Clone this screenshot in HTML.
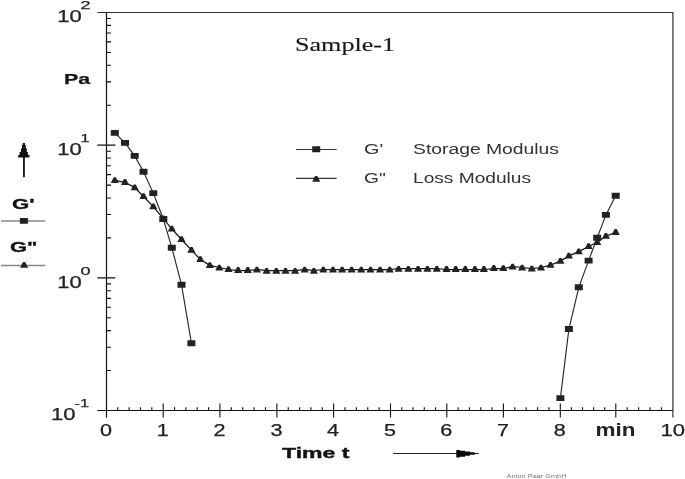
<!DOCTYPE html>
<html><head><meta charset="utf-8"><title>Sample-1</title>
<style>html,body{margin:0;padding:0;background:#fff;width:685px;height:479px;overflow:hidden}svg{display:block}</style>
</head><body><svg width="685" height="479" viewBox="0 0 685 479"><path d="M97.3 12.5H673.5M672.9 12.5V417.5" stroke="#333" stroke-width="1.2" fill="none"/><path d="M106.5 12.5V417.5M97.3 410.5H672.9" stroke="#111" stroke-width="1.2" fill="none"/><path d="M106.5 370.56H111M106.5 347.20H111M106.5 330.62H111M106.5 317.77H111M106.5 307.26H111M106.5 298.38H111M106.5 290.69H111M106.5 283.90H111M106.5 237.89H111M106.5 214.53H111M106.5 197.95H111M106.5 185.10H111M106.5 174.59H111M106.5 165.71H111M106.5 158.02H111M106.5 151.23H111M106.5 105.22H111M106.5 81.86H111M106.5 65.28H111M106.5 52.43H111M106.5 41.92H111M106.5 33.04H111M106.5 25.35H111M106.5 18.56H111M97.3 277.83H115.4M97.3 145.16H115.4M117.76 407.3V410.5M129.12 407.3V410.5M140.48 407.3V410.5M151.84 407.3V410.5M174.54 407.3V410.5M185.88 407.3V410.5M197.22 407.3V410.5M208.56 407.3V410.5M231.30 407.3V410.5M242.70 407.3V410.5M254.10 407.3V410.5M265.50 407.3V410.5M288.24 407.3V410.5M299.58 407.3V410.5M310.92 407.3V410.5M322.26 407.3V410.5M344.98 407.3V410.5M356.36 407.3V410.5M367.74 407.3V410.5M379.12 407.3V410.5M401.76 407.3V410.5M413.02 407.3V410.5M424.28 407.3V410.5M435.54 407.3V410.5M458.12 407.3V410.5M469.44 407.3V410.5M480.76 407.3V410.5M492.08 407.3V410.5M514.78 407.3V410.5M526.16 407.3V410.5M537.54 407.3V410.5M548.92 407.3V410.5M571.40 407.3V410.5M582.50 407.3V410.5M593.60 407.3V410.5M604.70 407.3V410.5M627.20 407.3V410.5M638.60 407.3V410.5M650.00 407.3V410.5M661.40 407.3V410.5M163.20 403.4V417.5M219.90 403.4V417.5M276.90 403.4V417.5M333.60 403.4V417.5M390.50 403.4V417.5M446.80 403.4V417.5M503.40 403.4V417.5M560.30 403.4V417.5M615.80 403.4V417.5" stroke="#111" stroke-width="1.1" fill="none"/><path d="M114.8 180.4 L125.0 182.3 L134.7 187.6 L143.5 196.5 L153.3 206.6 L163.3 218.6 L171.8 228.9 L181.5 239.5 L191.4 250.1 L200.3 259.5 L209.8 265.4 L219.3 267.5 L228.5 269.5 L238.1 270.5 L247.8 270.5 L256.9 269.5 L266.6 270.5 L276.3 270.5 L285.5 270.5 L295.1 270.5 L304.7 269.5 L313.9 270.5 L323.3 269.5 L333.0 269.5 L342.1 269.5 L351.6 269.5 L361.2 269.5 L370.5 269.5 L380.1 269.5 L389.7 269.5 L398.6 268.5 L408.4 268.5 L418.1 268.5 L427.4 268.5 L436.8 268.5 L446.5 269.5 L455.7 269.5 L465.3 269.5 L474.9 269.5 L483.9 269.5 L493.8 268.5 L503.3 268.5 L512.6 266.5 L522.1 267.5 L531.8 268.5 L541.0 267.5 L550.5 265.2 L560.4 261.1 L568.9 255.9 L578.8 251.6 L588.6 246.5 L597.2 242.3 L605.9 236.2 L615.7 232.3" stroke="#151515" stroke-width="1.25" fill="none"/><path d="M114.8 132.9 L125.0 142.9 L134.7 155.9 L143.5 171.8 L153.3 193.1 L163.3 219.0 L171.8 247.7 L181.5 284.7 L191.4 343.2 M560.4 398.1 L568.9 329.0 L578.8 287.3 L588.6 260.6 L597.2 237.7 L605.9 214.9 L615.7 195.7" stroke="#222" stroke-width="1.1" fill="none"/><path d="M113.70 177.20H115.90L118.80 183.00H110.80zM123.90 179.10H126.10L129.00 184.90H121.00zM133.60 184.40H135.80L138.70 190.20H130.70zM142.40 193.30H144.60L147.50 199.10H139.50zM152.20 203.40H154.40L157.30 209.20H149.30zM162.20 215.40H164.40L167.30 221.20H159.30zM170.70 225.70H172.90L175.80 231.50H167.80zM180.40 236.30H182.60L185.50 242.10H177.50zM190.30 246.90H192.50L195.40 252.70H187.40zM199.20 256.30H201.40L204.30 262.10H196.30zM208.70 262.20H210.90L213.80 268.00H205.80zM218.20 264.80H220.40L223.30 270.60H215.30zM227.40 266.30H229.60L232.50 272.10H224.50zM237.00 267.10H239.20L242.10 272.90H234.10zM246.70 267.10H248.90L251.80 272.90H243.80zM255.80 266.80H258.00L260.90 272.60H252.90zM265.50 268.00H267.70L270.60 273.80H262.60zM275.20 268.00H277.40L280.30 273.80H272.30zM284.40 268.00H286.60L289.50 273.80H281.50zM294.00 268.00H296.20L299.10 273.80H291.10zM303.60 266.80H305.80L308.70 272.60H300.70zM312.80 268.00H315.00L317.90 273.80H309.90zM322.20 266.80H324.40L327.30 272.60H319.30zM331.90 266.80H334.10L337.00 272.60H329.00zM341.00 266.80H343.20L346.10 272.60H338.10zM350.50 266.80H352.70L355.60 272.60H347.60zM360.10 266.80H362.30L365.20 272.60H357.20zM369.40 266.80H371.60L374.50 272.60H366.50zM379.00 266.80H381.20L384.10 272.60H376.10zM388.60 266.80H390.80L393.70 272.60H385.70zM397.50 265.90H399.70L402.60 271.70H394.60zM407.30 265.90H409.50L412.40 271.70H404.40zM417.00 265.90H419.20L422.10 271.70H414.10zM426.30 265.90H428.50L431.40 271.70H423.40zM435.70 266.00H437.90L440.80 271.80H432.80zM445.40 266.10H447.60L450.50 271.90H442.50zM454.60 266.10H456.80L459.70 271.90H451.70zM464.20 266.10H466.40L469.30 271.90H461.30zM473.80 266.10H476.00L478.90 271.90H470.90zM482.80 266.10H485.00L487.90 271.90H479.90zM492.70 265.10H494.90L497.80 270.90H489.80zM502.20 265.30H504.40L507.30 271.10H499.30zM511.50 263.80H513.70L516.60 269.60H508.60zM521.00 264.80H523.20L526.10 270.60H518.10zM530.70 265.70H532.90L535.80 271.50H527.80zM539.90 264.80H542.10L545.00 270.60H537.00zM549.40 262.00H551.60L554.50 267.80H546.50zM559.30 257.90H561.50L564.40 263.70H556.40zM567.80 252.70H570.00L572.90 258.50H564.90zM577.70 248.40H579.90L582.80 254.20H574.80zM587.50 243.30H589.70L592.60 249.10H584.60zM596.10 239.10H598.30L601.20 244.90H593.20zM604.80 233.00H607.00L609.90 238.80H601.90zM614.60 229.10H616.80L619.70 234.90H611.70z" fill="#222"/><path d="M110.80 129.95h8.0v5.9h-8.0zM121.00 139.95h8.0v5.9h-8.0zM130.70 152.95h8.0v5.9h-8.0zM139.50 168.85h8.0v5.9h-8.0zM149.30 190.15h8.0v5.9h-8.0zM159.30 216.05h8.0v5.9h-8.0zM167.80 244.75h8.0v5.9h-8.0zM177.50 281.75h8.0v5.9h-8.0zM187.40 340.25h8.0v5.9h-8.0zM556.40 395.15h8.0v5.9h-8.0zM564.90 326.05h8.0v5.9h-8.0zM574.80 284.35h8.0v5.9h-8.0zM584.60 257.65h8.0v5.9h-8.0zM593.20 234.75h8.0v5.9h-8.0zM601.90 211.95h8.0v5.9h-8.0zM611.70 192.75h8.0v5.9h-8.0z" fill="#222"/><text x="57.3" y="22.4" font-size="16" font-weight="normal" font-family='"Liberation Sans", sans-serif' fill="#222" stroke="#222" stroke-width="0.25" textLength="24.5" lengthAdjust="spacingAndGlyphs" text-anchor="start">10</text><text x="80.6" y="8.9" font-size="10.8" font-weight="normal" font-family='"Liberation Sans", sans-serif' fill="#222" stroke="#222" stroke-width="0.25" textLength="10" lengthAdjust="spacingAndGlyphs" text-anchor="start">2</text><text x="57.3" y="155" font-size="16" font-weight="normal" font-family='"Liberation Sans", sans-serif' fill="#222" stroke="#222" stroke-width="0.25" textLength="24.5" lengthAdjust="spacingAndGlyphs" text-anchor="start">10</text><text x="80.6" y="141.5" font-size="10.8" font-weight="normal" font-family='"Liberation Sans", sans-serif' fill="#222" stroke="#222" stroke-width="0.25" textLength="9" lengthAdjust="spacingAndGlyphs" text-anchor="start">1</text><text x="57.3" y="288" font-size="16" font-weight="normal" font-family='"Liberation Sans", sans-serif' fill="#222" stroke="#222" stroke-width="0.25" textLength="24.5" lengthAdjust="spacingAndGlyphs" text-anchor="start">10</text><text x="80.6" y="274.5" font-size="10.8" font-weight="normal" font-family='"Liberation Sans", sans-serif' fill="#222" stroke="#222" stroke-width="0.25" textLength="10" lengthAdjust="spacingAndGlyphs" text-anchor="start">0</text><text x="51.1" y="420.4" font-size="16" font-weight="normal" font-family='"Liberation Sans", sans-serif' fill="#222" stroke="#222" stroke-width="0.25" textLength="24.5" lengthAdjust="spacingAndGlyphs" text-anchor="start">10</text><text x="74.6" y="406.9" font-size="10.5" font-weight="normal" font-family='"Liberation Sans", sans-serif' fill="#222" stroke="#222" stroke-width="0.25" textLength="14.5" lengthAdjust="spacingAndGlyphs" text-anchor="start">-1</text><text x="64" y="83.8" font-size="15.3" font-weight="bold" font-family='"Liberation Sans", sans-serif' fill="#151515" stroke="#151515" stroke-width="0.25" textLength="26.2" lengthAdjust="spacingAndGlyphs" text-anchor="start">Pa</text><text x="105.9" y="435.7" font-size="16" font-weight="normal" font-family='"Liberation Sans", sans-serif' fill="#222" stroke="#222" stroke-width="0.25" textLength="12" lengthAdjust="spacingAndGlyphs" text-anchor="middle">0</text><text x="162.7" y="435.7" font-size="16" font-weight="normal" font-family='"Liberation Sans", sans-serif' fill="#222" stroke="#222" stroke-width="0.25" textLength="12" lengthAdjust="spacingAndGlyphs" text-anchor="middle">1</text><text x="219.4" y="435.7" font-size="16" font-weight="normal" font-family='"Liberation Sans", sans-serif' fill="#222" stroke="#222" stroke-width="0.25" textLength="12" lengthAdjust="spacingAndGlyphs" text-anchor="middle">2</text><text x="276.4" y="435.7" font-size="16" font-weight="normal" font-family='"Liberation Sans", sans-serif' fill="#222" stroke="#222" stroke-width="0.25" textLength="12" lengthAdjust="spacingAndGlyphs" text-anchor="middle">3</text><text x="333.1" y="435.7" font-size="16" font-weight="normal" font-family='"Liberation Sans", sans-serif' fill="#222" stroke="#222" stroke-width="0.25" textLength="12" lengthAdjust="spacingAndGlyphs" text-anchor="middle">4</text><text x="390.0" y="435.7" font-size="16" font-weight="normal" font-family='"Liberation Sans", sans-serif' fill="#222" stroke="#222" stroke-width="0.25" textLength="12" lengthAdjust="spacingAndGlyphs" text-anchor="middle">5</text><text x="446.3" y="435.7" font-size="16" font-weight="normal" font-family='"Liberation Sans", sans-serif' fill="#222" stroke="#222" stroke-width="0.25" textLength="12" lengthAdjust="spacingAndGlyphs" text-anchor="middle">6</text><text x="502.9" y="435.7" font-size="16" font-weight="normal" font-family='"Liberation Sans", sans-serif' fill="#222" stroke="#222" stroke-width="0.25" textLength="12" lengthAdjust="spacingAndGlyphs" text-anchor="middle">7</text><text x="559.8" y="435.7" font-size="16" font-weight="normal" font-family='"Liberation Sans", sans-serif' fill="#222" stroke="#222" stroke-width="0.25" textLength="12" lengthAdjust="spacingAndGlyphs" text-anchor="middle">8</text><text x="615.5999999999999" y="436" font-size="17.5" font-weight="bold" font-family='"Liberation Sans", sans-serif' fill="#222" textLength="40" lengthAdjust="spacingAndGlyphs" text-anchor="middle">min</text><text x="660.5" y="435.7" font-size="16" font-weight="normal" font-family='"Liberation Sans", sans-serif' fill="#222" stroke="#222" stroke-width="0.25" textLength="24.5" lengthAdjust="spacingAndGlyphs" text-anchor="start">10</text><text x="282" y="458.1" font-size="14.5" font-weight="bold" font-family='"Liberation Sans", sans-serif' fill="#111" stroke="#111" stroke-width="0.35" textLength="67.5" lengthAdjust="spacingAndGlyphs" text-anchor="start">Time t</text><path d="M393 453.5H478.5" stroke="#222" stroke-width="1.1"/><path d="M456.3 449.9H459.8V450.8H465V451.5H469.9V452.2H474.8V454.8H469.9V455.7H465V456.7H459.8V457.6H456.3z" fill="#0a0a0a"/><text x="506.5" y="477.6" font-size="5.5" font-weight="normal" font-family='"Liberation Sans", sans-serif' fill="#777" textLength="60" lengthAdjust="spacingAndGlyphs" text-anchor="start">Anton Paar GmbH</text><text x="295" y="50.7" font-size="18.5" font-weight="normal" font-family='"Liberation Serif", serif' fill="#1a1a1a" stroke="#1a1a1a" stroke-width="0.15" textLength="100" lengthAdjust="spacingAndGlyphs" text-anchor="start">Sample-1</text><path d="M296.1 149.5H336.6M296.1 178.4H336.6" stroke="#333" stroke-width="1.2"/><path d="M312.20 146.25h8.0v5.9h-8.0zM315.10 175.90H317.30L320.20 181.70H312.20z" fill="#222"/><text x="364" y="154" font-size="14.2" font-weight="normal" font-family='"Liberation Sans", sans-serif' fill="#333" textLength="19.2" lengthAdjust="spacingAndGlyphs" text-anchor="start">G'</text><text x="364" y="183.2" font-size="14.2" font-weight="normal" font-family='"Liberation Sans", sans-serif' fill="#333" textLength="21.8" lengthAdjust="spacingAndGlyphs" text-anchor="start">G"</text><text x="413" y="154.4" font-size="14.9" font-weight="normal" font-family='"Liberation Sans", sans-serif' fill="#333" textLength="146" lengthAdjust="spacingAndGlyphs" text-anchor="start">Storage Modulus</text><text x="413" y="183.4" font-size="14.9" font-weight="normal" font-family='"Liberation Sans", sans-serif' fill="#333" textLength="118" lengthAdjust="spacingAndGlyphs" text-anchor="start">Loss Modulus</text><path d="M23.95 156V177.3" stroke="#111" stroke-width="1.8"/><path d="M22.7 142.9H25V145H25.8V148.5H26.8V152H27.9V155H29.4V157.4H18.2V155H19.6V152H20.9V148.5H22V145H22.7z" fill="#111"/><text x="12" y="208.8" font-size="13.8" font-weight="bold" font-family='"Liberation Sans", sans-serif' fill="#111" stroke="#111" stroke-width="0.3" textLength="22.5" lengthAdjust="spacingAndGlyphs" text-anchor="start">G'</text><text x="10" y="252.1" font-size="13.8" font-weight="bold" font-family='"Liberation Sans", sans-serif' fill="#111" stroke="#111" stroke-width="0.3" textLength="27.5" lengthAdjust="spacingAndGlyphs" text-anchor="start">G"</text><path d="M1 220.9H45.3M1 265.5H45.3" stroke="#888" stroke-width="1.5"/><path d="M19.90 217.95h8.0v5.9h-8.0zM23.00 261.90H25.20L28.10 267.70H20.10z" fill="#222"/></svg></body></html>
